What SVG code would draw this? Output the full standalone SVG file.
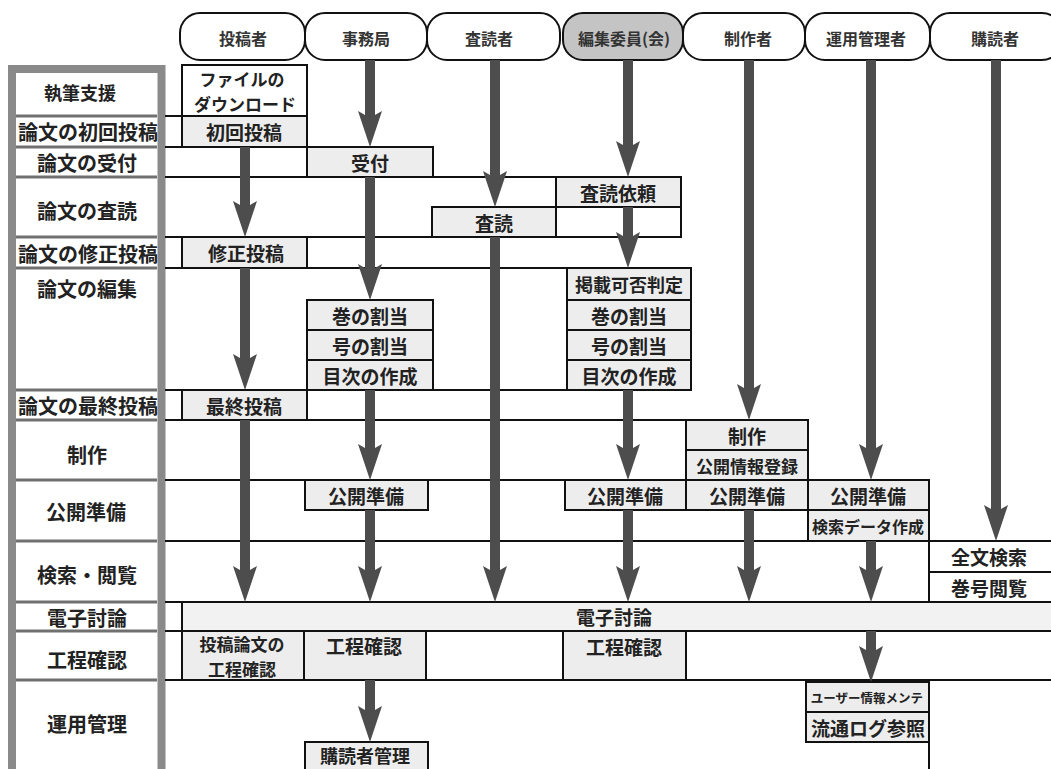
<svg xmlns="http://www.w3.org/2000/svg" width="1051" height="769" viewBox="0 0 1051 769">
<style>
.pill{fill:#fff;stroke:#111;stroke-width:2}
.hl{fill:#c4c4c4}
.t{font-family:"Noto Sans CJK JP","Noto Sans CJK SC",sans-serif;font-weight:bold;fill:#222;text-anchor:middle;dominant-baseline:central}
.ph{font-size:16px;fill:#333}
.lb{font-size:20px}
.bx{font-size:19px}
.b2{font-size:17px}
.box{fill:#ededed;stroke:#111;stroke-width:2}
.wbox{fill:#fff;stroke:#111;stroke-width:2}
.g{stroke:#111;stroke-width:2;fill:none}
.lc{fill:#fff;stroke:#8a8a8a;stroke-width:8}
.ls{stroke:#707070;stroke-width:3}
.arr{fill:#4d4d4d}
</style>

<g id="headers">
<g id="h1"><rect class="pill" x="180" y="13" width="125" height="47" rx="20"/><text class="t ph" x="243" y="38">投稿者</text></g>
<g id="h2"><rect class="pill" x="305" y="13" width="122" height="47" rx="20"/><text class="t ph" x="366" y="38">事務局</text></g>
<g id="h3"><rect class="pill" x="427" y="13" width="133" height="47" rx="20"/><text class="t ph" x="489" y="38">査読者</text></g>
<g id="h4"><rect class="pill hl" x="563" y="13" width="120" height="47" rx="20"/><text class="t ph" x="624" y="38">編集委員(会)</text></g>
<g id="h5"><rect class="pill" x="683" y="13" width="122" height="47" rx="20"/><text class="t ph" x="748" y="38">制作者</text></g>
<g id="h6"><rect class="pill" x="805" y="13" width="125" height="47" rx="20"/><text class="t ph" x="866" y="38">運用管理者</text></g>
<g id="h7"><rect class="pill" x="930" y="13" width="132" height="47" rx="20"/><text class="t ph" x="995" y="38">購読者</text></g>
</g>

<g id="left-column">
<rect class="lc" x="12" y="69" width="149.5" height="704"/>
<line class="ls" x1="16" y1="116" x2="157" y2="116"/>
<line class="ls" x1="16" y1="147" x2="157" y2="147"/>
<line class="ls" x1="16" y1="177" x2="157" y2="177"/>
<line class="ls" x1="16" y1="237" x2="157" y2="237"/>
<line class="ls" x1="16" y1="268" x2="157" y2="268"/>
<line class="ls" x1="16" y1="390" x2="157" y2="390"/>
<line class="ls" x1="16" y1="420" x2="157" y2="420"/>
<line class="ls" x1="16" y1="480" x2="157" y2="480"/>
<line class="ls" x1="16" y1="541" x2="157" y2="541"/>
<line class="ls" x1="16" y1="602" x2="157" y2="602"/>
<line class="ls" x1="16" y1="631" x2="157" y2="631"/>
<line class="ls" x1="16" y1="680" x2="157" y2="680"/>
<text class="t" style="font-size:18px" x="80" y="92">執筆支援</text>
<text class="t lb" x="88" y="131">論文の初回投稿</text>
<text class="t lb" x="87" y="162">論文の受付</text>
<text class="t lb" x="87" y="210">論文の査読</text>
<text class="t lb" x="88" y="253">論文の修正投稿</text>
<text class="t lb" x="87" y="288">論文の編集</text>
<text class="t lb" x="88" y="405">論文の最終投稿</text>
<text class="t lb" x="87" y="454">制作</text>
<text class="t lb" x="86" y="511">公開準備</text>
<text class="t lb" x="87" y="574">検索・閲覧</text>
<text class="t lb" x="87" y="617">電子討論</text>
<text class="t lb" x="87" y="659">工程確認</text>
<text class="t lb" x="87" y="723">運用管理</text>
</g>

<g id="grid">
<line class="g" x1="165" y1="116" x2="307" y2="116"/>
<line class="g" x1="165" y1="147" x2="433" y2="147"/>
<line class="g" x1="165" y1="177" x2="681" y2="177"/>
<line class="g" x1="165" y1="237" x2="681" y2="237"/>
<line class="g" x1="165" y1="268" x2="691" y2="268"/>
<line class="g" x1="165" y1="390" x2="691" y2="390"/>
<line class="g" x1="165" y1="420" x2="808" y2="420"/>
<line class="g" x1="165" y1="480" x2="929" y2="480"/>
<line class="g" x1="165" y1="541" x2="1051" y2="541"/>
<line class="g" x1="165" y1="602" x2="1051" y2="602"/>
<line class="g" x1="165" y1="631" x2="1051" y2="631"/>
<line class="g" x1="165" y1="680" x2="1051" y2="680"/>
<line class="g" x1="929" y1="742" x2="929" y2="769"/>
</g>

<g id="n-file"><rect class="wbox" x="182" y="65" width="125" height="51"/><text class="t b2" x="242" y="78">ファイルの</text><text class="t b2" x="245" y="103">ダウンロード</text></g>
<g id="n-shokai"><rect class="box" x="182" y="116" width="125" height="31"/><text class="t bx" x="244" y="131">初回投稿</text></g>
<g id="n-uketsuke"><rect class="box" x="307" y="147" width="126" height="30"/><text class="t bx" x="370" y="162">受付</text></g>
<g id="n-irai"><rect class="box" x="556" y="177" width="125" height="30"/><text class="t bx" x="618" y="192">査読依頼</text></g>
<g id="n-empty"><rect class="wbox" x="556" y="207" width="125" height="30"/></g>
<g id="n-sadoku"><rect class="box" x="432" y="207" width="124" height="30"/><text class="t bx" x="494" y="222">査読</text></g>
<g id="n-shusei"><rect class="box" x="182" y="237" width="125" height="31"/><text class="t bx" x="246" y="252">修正投稿</text></g>
<g id="n-jimu-hen">
<rect class="box" x="307" y="300" width="126" height="30"/><text class="t bx" x="370" y="315">巻の割当</text>
<rect class="box" x="307" y="330" width="126" height="30"/><text class="t bx" x="370" y="345">号の割当</text>
<rect class="box" x="307" y="360" width="126" height="30"/><text class="t bx" x="370" y="375">目次の作成</text>
</g>
<g id="n-hen-hen">
<rect class="box" x="567" y="268" width="124" height="32"/><text class="t" style="font-size:18px" x="629" y="284">掲載可否判定</text>
<rect class="box" x="567" y="300" width="124" height="30"/><text class="t bx" x="629" y="315">巻の割当</text>
<rect class="box" x="567" y="330" width="124" height="30"/><text class="t bx" x="629" y="345">号の割当</text>
<rect class="box" x="567" y="360" width="124" height="30"/><text class="t bx" x="629" y="375">目次の作成</text>
</g>
<g id="n-saishu"><rect class="box" x="182" y="390" width="125" height="30"/><text class="t bx" x="244" y="405">最終投稿</text></g>
<g id="n-seisaku">
<rect class="box" x="686" y="420" width="122" height="30"/><text class="t bx" x="747" y="435">制作</text>
<rect class="box" x="686" y="450" width="122" height="30"/><text class="t" style="font-size:17px" x="747" y="465">公開情報登録</text>
</g>
<g id="n-kokai">
<rect class="box" x="305" y="480" width="123" height="30"/><text class="t bx" x="366" y="495">公開準備</text>
<rect class="box" x="565" y="480" width="121" height="30"/><text class="t bx" x="625" y="495">公開準備</text>
<rect class="box" x="686" y="480" width="122" height="30"/><text class="t bx" x="747" y="495">公開準備</text>
<rect class="box" x="808" y="480" width="121" height="30"/><text class="t bx" x="868" y="495">公開準備</text>
<rect class="box" x="808" y="510" width="121" height="31"/><text class="t" style="font-size:16px" x="868" y="526">検索データ作成</text>
</g>
<g id="n-kensaku">
<rect class="wbox" x="929" y="541" width="130" height="31"/><text class="t bx" x="989" y="556">全文検索</text>
<rect class="wbox" x="929" y="572" width="130" height="30"/><text class="t bx" x="989" y="587">巻号閲覧</text>
</g>
<g id="n-touron"><rect class="box" x="182" y="602" width="880" height="29" style="fill:#f2f2f2"/><text class="t bx" x="614" y="616">電子討論</text></g>
<g id="n-kotei">
<rect class="box" x="182" y="631" width="122" height="49"/><text class="t b2" x="242" y="643">投稿論文の</text><text class="t b2" x="242" y="668">工程確認</text>
<rect class="box" x="304" y="631" width="122" height="49"/><text class="t bx" x="364" y="645">工程確認</text>
<rect class="box" x="563" y="631" width="123" height="49"/><text class="t bx" x="624" y="646">工程確認</text>
</g>
<g id="n-unyo">
<rect class="box" x="806" y="682" width="123" height="30"/><text class="t" style="font-size:12.5px" x="867" y="697">ユーザー情報メンテ</text>
<rect class="box" x="806" y="712" width="123" height="30"/><text class="t bx" x="868" y="727">流通ログ参照</text>
</g>
<g id="n-kodoku"><rect class="box" x="305" y="742" width="123" height="35"/><text class="t" style="font-size:18px" x="365" y="755">購読者管理</text></g>

<g id="connectors">
<path class="arr" d="M240 147H250V205L257 201L245 237L233 201L240 205Z"/>
<path class="arr" d="M240 268H250V358L257 354L245 390L233 354L240 358Z"/>
<path class="arr" d="M240 420H250V570L257 566L245 602L233 566L240 570Z"/>
<path class="arr" d="M365 60H375V115L382 111L370 147L358 111L365 115Z"/>
<path class="arr" d="M365 177H375V268L382 264L370 300L358 264L365 268Z"/>
<path class="arr" d="M365 390H375V448L382 444L370 480L358 444L365 448Z"/>
<path class="arr" d="M365 510H375V570L382 566L370 602L358 566L365 570Z"/>
<path class="arr" d="M365 680H375V710L382 706L370 742L358 706L365 710Z"/>
<path class="arr" d="M490 60H500V175L507 171L495 207L483 171L490 175Z"/>
<path class="arr" d="M490 237H500V570L507 566L495 602L483 566L490 570Z"/>
<path class="arr" d="M623 60H633V145L640 141L628 177L616 141L623 145Z"/>
<path class="arr" d="M623 207H633V236L640 232L628 268L616 232L623 236Z"/>
<path class="arr" d="M623 390H633V448L640 444L628 480L616 444L623 448Z"/>
<path class="arr" d="M623 510H633V570L640 566L628 602L616 566L623 570Z"/>
<path class="arr" d="M744 60H754V388L761 384L749 420L737 384L744 388Z"/>
<path class="arr" d="M744 510H754V570L761 566L749 602L737 566L744 570Z"/>
<path class="arr" d="M866 60H876V448L883 444L871 480L859 444L866 448Z"/>
<path class="arr" d="M866 541H876V570L883 566L871 602L859 566L866 570Z"/>
<path class="arr" d="M866 631H876V650L883 646L871 682L859 646L866 650Z"/>
<path class="arr" d="M991 60H1001V509L1008 505L996 541L984 505L991 509Z"/>
</g>
</svg>
